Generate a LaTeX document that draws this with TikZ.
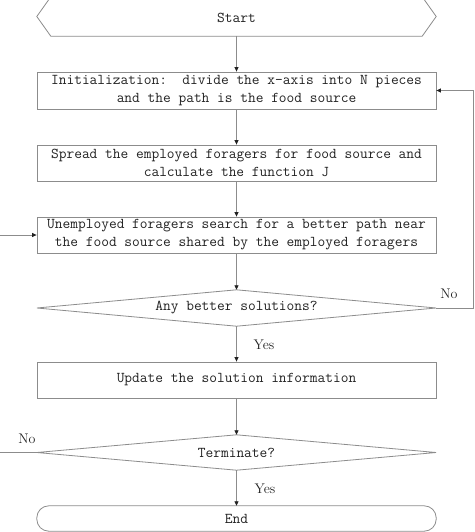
\documentclass[tikz,border=0pt]{standalone}
\usetikzlibrary{arrows.meta}
\definecolor{linegray}{HTML}{8C8C8C}
\definecolor{txt}{HTML}{222222}
\begin{document}
\begin{tikzpicture}[x=1pt,y=-1pt,
  boxtxt/.style={font=\fontsize{15}{18}\selectfont\ttfamily, text=txt, align=center, inner sep=0pt},
  procbox/.style={boxtxt, draw=linegray, line width=0.8pt, minimum width=399pt, minimum height=36pt},
  plainbox/.style={boxtxt, minimum width=399pt, minimum height=36pt},
  outline/.style={draw=linegray, line width=0.8pt},
  flow/.style={draw=linegray, line width=0.8pt, -{Triangle[length=4.5pt,width=4pt,color=txt]}},
  lbl/.style={font=\fontsize{14}{16}\selectfont, text=txt, inner sep=0pt}
]
\useasboundingbox (0,0) rectangle (474,532);
\clip (0,0) rectangle (474,532);
\fill[white] (0,0) rectangle (474,532);

% Start (hexagon, top cut by the frame)
\node[plainbox, minimum height=39pt] (start) at (236.5,16.5) {};
\node[boxtxt] (starttxt) at (236.5,18) {Start};
\draw[outline] (start.west) -- ([xshift=14pt]start.north west) -- ([xshift=-14pt]start.north east)
  -- (start.east) -- ([xshift=-14pt]start.south east) -- ([xshift=14pt]start.south west) -- cycle;

\node[procbox, minimum height=37pt] (init) at (236.5,90.5) {Initialization:\ \ divide the x-axis into N pieces\\and the path is the food source};
\node[procbox] (spread) at (236.5,163) {Spread the employed foragers for food source and\\calculate the function J};
\node[procbox] (unemp) at (236.5,235) {Unemployed foragers search for a better path near\\the food source shared by the employed foragers};

% Decision 1
\node[plainbox] (better) at (236.5,308) {Any better solutions?};
\draw[outline] (better.west) -- (better.north) -- (better.east) -- (better.south) -- cycle;

\node[procbox] (update) at (236.5,380) {Update the solution information};

% Decision 2
\node[plainbox, minimum height=35pt] (term) at (236.5,452.5) {Terminate?};
\draw[outline] (term.west) -- (term.north) -- (term.east) -- (term.south) -- cycle;

% End (stadium)
\node[plainbox, minimum height=25pt] (endn) at (236.5,518.5) {End};
\draw[outline, rounded corners=12pt] (endn.north west) rectangle (endn.south east);

% connectors
\draw[flow] (start.south) -- (init.north);
\draw[flow] (init.south) -- (spread.north);
\draw[flow] (spread.south) -- (unemp.north);
\draw[flow] (unemp.south) -- (better.north);
\draw[flow] (better.south) -- (update.north);
\draw[flow] (update.south) -- (term.north);
\draw[flow] (term.south) -- (endn.north);

\coordinate (rloop) at (473,308);
\draw[flow] (better.east) -- (rloop) |- (init.east);
\coordinate (lloop) at (-10,452.5);
\draw[flow] (term.west) -- (lloop) |- (unemp.west);

% labels
\node[lbl] (no1) at (449,294) {No};
\node[lbl] (yes1) at (264,345) {Yes};
\node[lbl] (no2) at (27,439) {No};
\node[lbl] (yes2) at (265,489) {Yes};
\end{tikzpicture}
\end{document}
